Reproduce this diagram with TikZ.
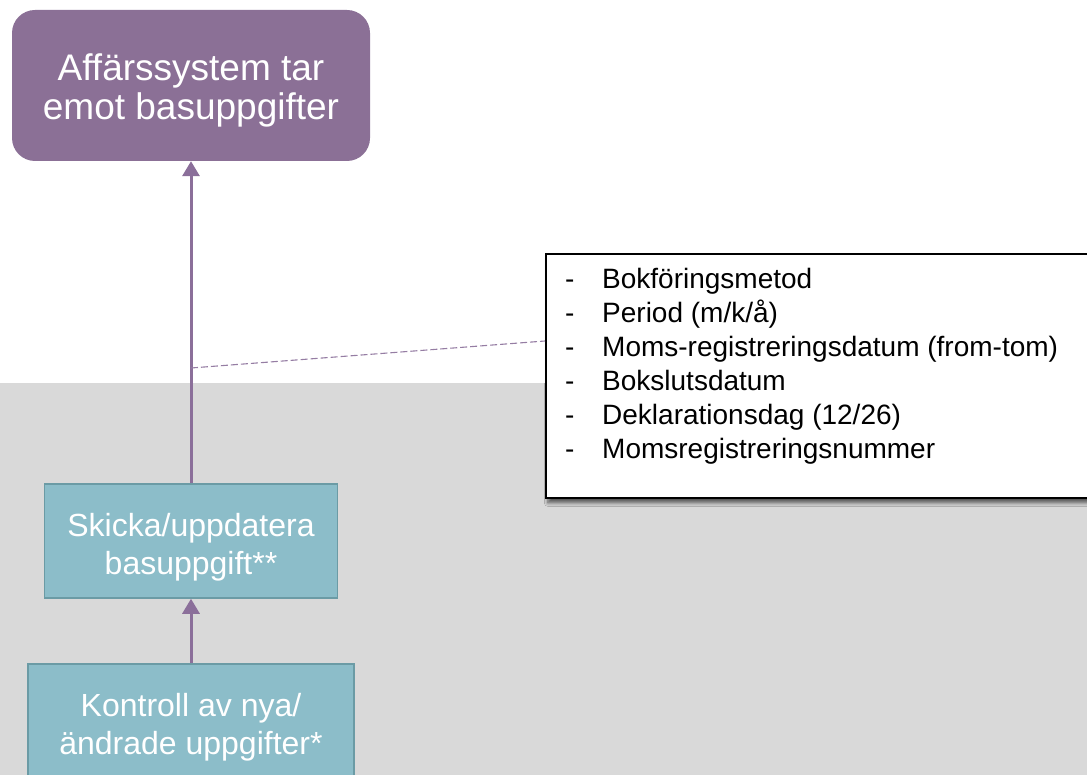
\documentclass[tikz,border=0pt]{standalone}
\usepackage{fontspec}
\setmainfont{Liberation Sans}
\usetikzlibrary{arrows.meta,shadows.blur,calc}
\definecolor{purp}{HTML}{8B7096}
\definecolor{purpline}{HTML}{8B6F9A}
\definecolor{purpdash}{HTML}{957DA3}
\definecolor{tealfill}{HTML}{8CBDC9}
\definecolor{tealborder}{HTML}{6B9BA5}
\definecolor{bggray}{HTML}{D9D9D9}
\newcommand\tstrut[1]{\rule{0pt}{#1}}
\begin{document}
\begin{tikzpicture}[x=1pt,y=-1pt,
  topbox/.style={fill=purp, rounded corners=23pt, text=white, font=\fontsize{37}{39}\selectfont, align=center, minimum width=358pt, minimum height=151pt, inner sep=0pt},
  stepbox/.style={fill=tealfill, draw=tealborder, line width=1.5pt, text=white, font=\fontsize{32}{38}\selectfont, align=center, inner sep=0pt},
  conn/.style={draw=purpline, line width=3pt, -{Triangle[width=17pt,length=15pt]}},
  dashline/.style={draw=purpdash, line width=1.1pt, dash pattern=on 7pt off 3pt},
  callout/.style={draw=black, fill=white, line width=1.8pt, inner sep=0pt, blur shadow={shadow xshift=2pt, shadow yshift=-5pt, shadow blur steps=6, shadow blur radius=3.5pt, shadow opacity=60}},
  item/.style={font=\fontsize{28}{34}\selectfont, inner sep=0pt, text=black}
]
\useasboundingbox (0,0) rectangle (1087,775);
\clip (0,0) rectangle (1087,775);
\fill[bggray] (0,383) rectangle (1087,775);

\node[topbox] (sys) at (191,85.5) {\tstrut{37pt}Affärssystem tar\\emot basuppgifter};
\node[stepbox, minimum width=293pt, minimum height=114pt] (send) at (191,541) {\tstrut{35.5pt}Skicka/uppdatera\\basuppgift**};
\node[stepbox, minimum width=326pt, minimum height=120pt] (check) at (191,724) {\tstrut{29.5pt}Kontroll av nya/\\ändrade uppgifter*};

\draw[conn] (send.north) -- (sys.south);
\draw[conn] (check.north) -- (send.south);

\node[callout, anchor=north west, minimum width=560pt, minimum height=244pt] (note) at (545,253) {};
\coordinate (dstart) at (191,368);
\draw[dashline] (dstart) -- ($(note.north west)+(0,88)$);

\foreach \t [count=\i] in {{Bokföringsmetod},{Period (m/k/å)},{Moms-registreringsdatum (from-tom)},{Bokslutsdatum},{Deklarationsdag (12/26)},{Momsregistreringsnummer}}
  \node[item, anchor=base west] (l\i) at (565,{289+33.8*(\i-1)}) {\makebox[37pt][l]{-}\t};
\end{tikzpicture}
\end{document}
